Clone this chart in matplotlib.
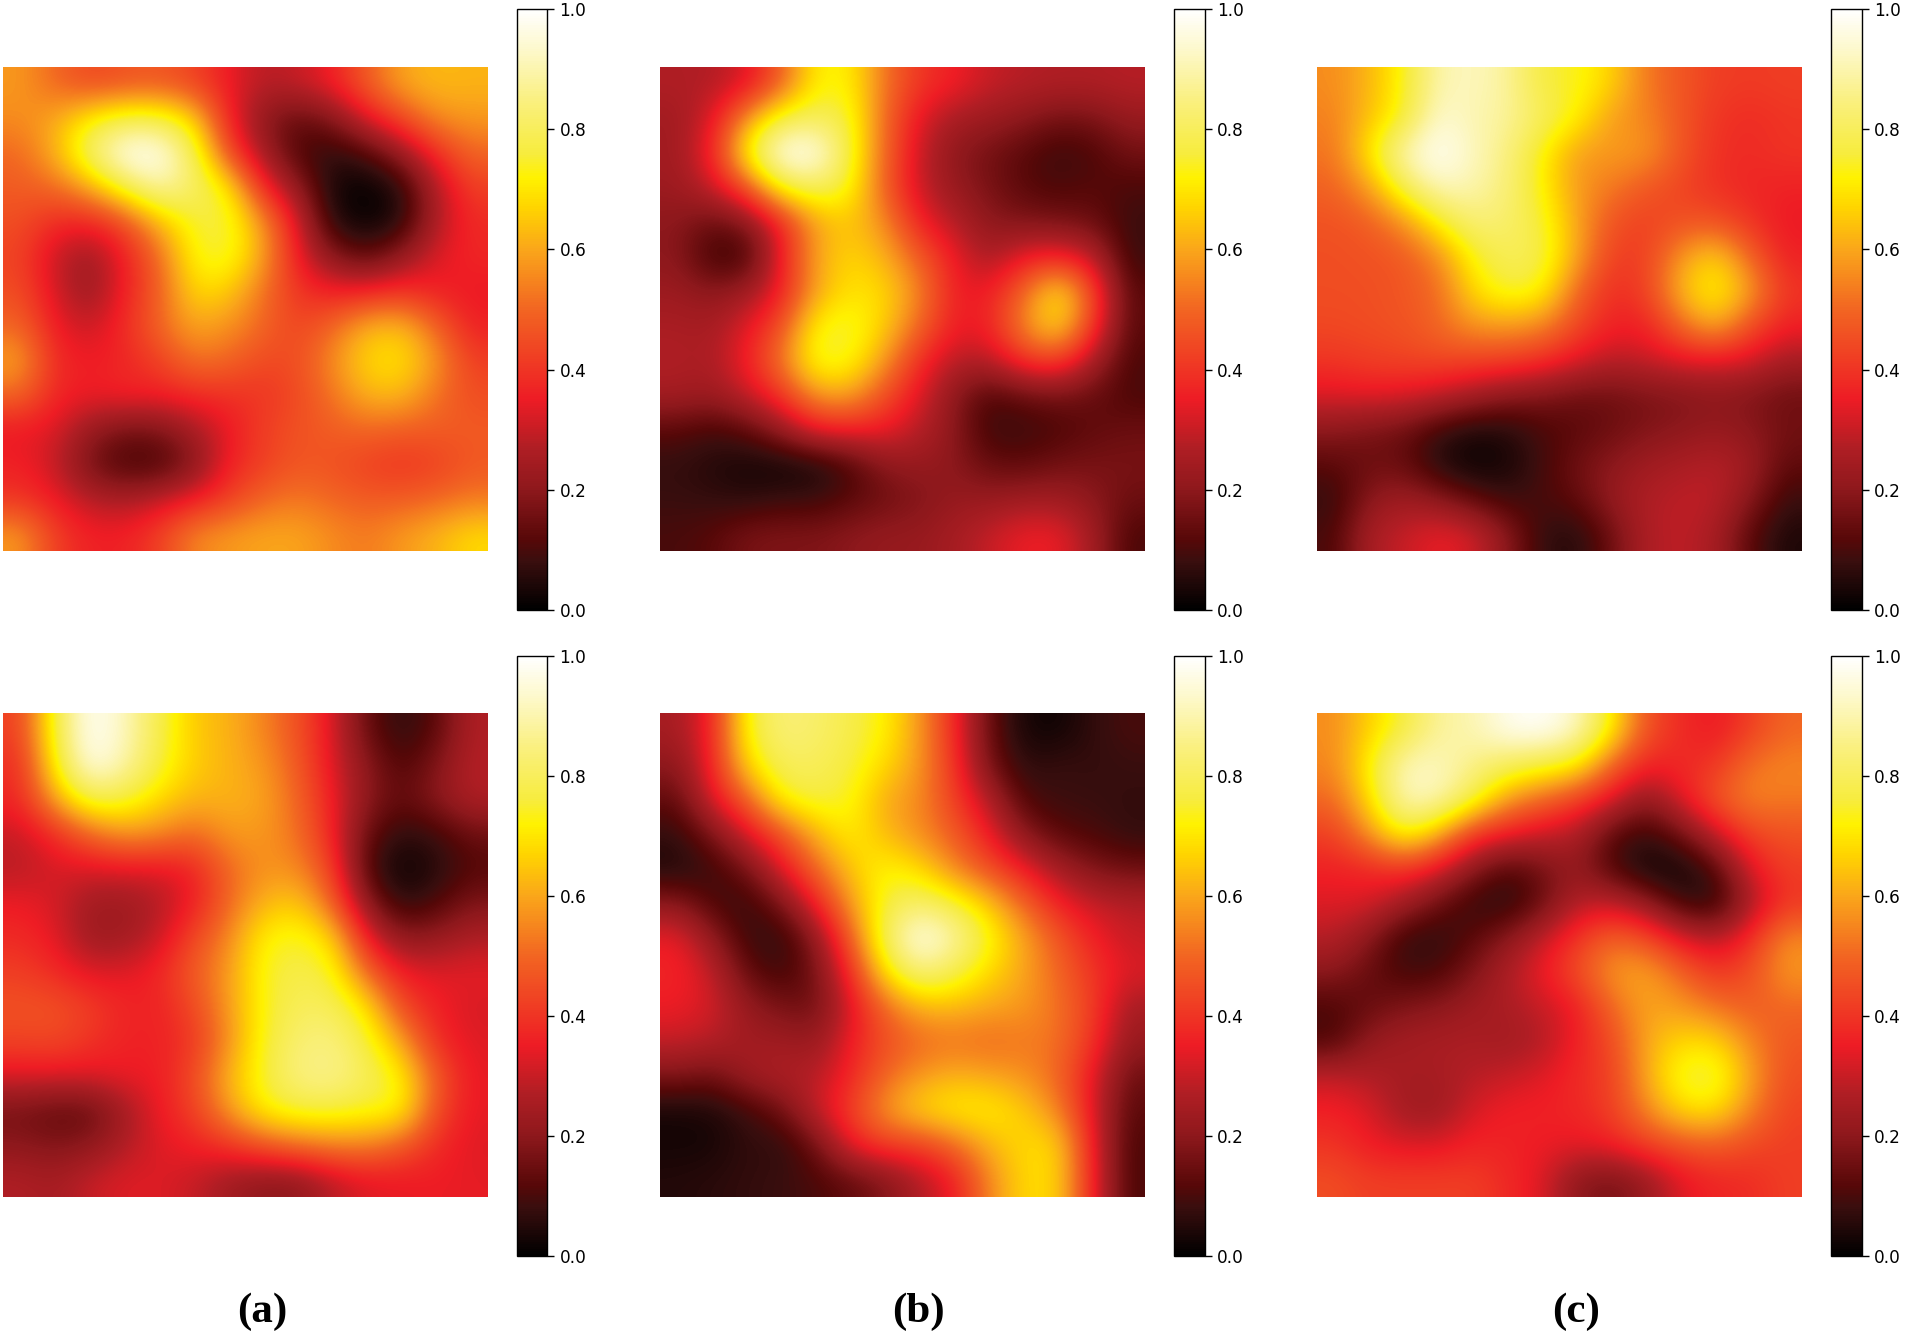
"""
Six smoothed heatmaps with a colorbar each, panel labels (a), (b), (c).
"""
import numpy as np
import matplotlib
matplotlib.use('Agg')
import matplotlib.pyplot as plt
from matplotlib.colors import LinearSegmentedColormap

# --- values, coarse grid per panel ---
a_top = [
    [.58, .50, .44, .46, .47, .43, .35, .28, .30, .36, .48, .60, .63, .62],
    [.56, .60, .72, .78, .78, .68, .37, .20, .13, .18, .33, .44, .56, .58],
    [.50, .62, .82, 1.0, 1.0, .80, .45, .25, .10, .06, .10, .22, .38, .50],
    [.48, .50, .60, .76, .90, .82, .72, .38, .22, .03, .00, .05, .27, .42],
    [.45, .38, .36, .44, .62, .75, .77, .58, .33, .05, .01, .05, .27, .38],
    [.43, .30, .23, .35, .50, .73, .76, .60, .35, .20, .12, .22, .33, .37],
    [.45, .32, .22, .36, .48, .68, .66, .52, .40, .36, .37, .40, .36, .34],
    [.50, .35, .30, .38, .50, .60, .57, .50, .43, .50, .62, .64, .50, .36],
    [.60, .38, .35, .37, .42, .52, .50, .44, .45, .56, .68, .70, .58, .42],
    [.50, .37, .35, .37, .36, .38, .39, .40, .44, .52, .62, .63, .52, .45],
    [.34, .33, .22, .16, .17, .25, .34, .42, .46, .48, .50, .48, .48, .48],
    [.36, .30, .16, .09, .09, .18, .36, .42, .47, .46, .42, .40, .42, .47],
    [.40, .35, .28, .26, .30, .35, .42, .50, .53, .50, .48, .48, .50, .53],
    [.58, .42, .36, .36, .42, .55, .58, .60, .60, .56, .53, .58, .62, .68],
]
b_top = [
    [.27, .27, .32, .48, .72, .72, .52, .40, .36, .30, .28, .27, .27, .28],
    [.24, .32, .58, .78, .80, .76, .50, .33, .25, .23, .20, .16, .17, .22],
    [.24, .36, .74, 1.0, 1.0, .76, .50, .30, .20, .16, .12, .08, .10, .16],
    [.23, .30, .45, .74, .80, .74, .48, .30, .22, .17, .12, .10, .12, .10],
    [.20, .14, .18, .36, .60, .65, .56, .36, .28, .20, .18, .17, .15, .08],
    [.20, .08, .08, .35, .60, .68, .62, .48, .35, .25, .35, .37, .30, .08],
    [.23, .20, .24, .35, .60, .70, .68, .55, .35, .35, .50, .72, .45, .12],
    [.26, .25, .33, .45, .73, .76, .66, .50, .35, .36, .56, .70, .42, .12],
    [.27, .26, .36, .53, .76, .74, .58, .38, .28, .28, .40, .43, .26, .10],
    [.25, .23, .30, .40, .58, .60, .45, .33, .20, .10, .14, .16, .14, .10],
    [.12, .09, .12, .22, .35, .36, .35, .28, .20, .08, .08, .10, .13, .15],
    [.07, .05, .03, .02, .03, .10, .20, .22, .20, .14, .13, .16, .17, .17],
    [.08, .07, .06, .08, .08, .12, .15, .18, .22, .22, .24, .24, .20, .15],
    [.10, .12, .17, .18, .18, .20, .22, .22, .25, .30, .35, .35, .25, .10],
]
c_top = [
    [.56, .62, .73, .90, .92, .88, .76, .74, .67, .53, .47, .42, .41, .42],
    [.54, .64, .74, .95, .90, .88, .80, .72, .58, .55, .47, .40, .38, .40],
    [.52, .70, .92, 1.0, .92, .85, .72, .58, .58, .58, .47, .39, .38, .40],
    [.49, .58, .78, .92, .90, .84, .72, .58, .53, .47, .43, .39, .37, .36],
    [.46, .48, .56, .72, .84, .82, .76, .60, .46, .42, .46, .46, .40, .34],
    [.45, .46, .47, .55, .73, .80, .78, .60, .42, .42, .58, .68, .50, .36],
    [.45, .45, .47, .50, .68, .76, .73, .50, .38, .42, .63, .74, .60, .40],
    [.44, .45, .46, .50, .57, .58, .55, .44, .36, .36, .50, .62, .45, .36],
    [.40, .42, .43, .44, .43, .42, .39, .33, .28, .30, .33, .33, .32, .25],
    [.33, .34, .33, .30, .25, .20, .18, .15, .15, .17, .18, .20, .18, .15],
    [.20, .17, .15, .08, .04, .05, .10, .12, .15, .18, .20, .22, .20, .16],
    [.12, .15, .14, .05, .01, .03, .09, .16, .20, .24, .26, .28, .24, .13],
    [.07, .20, .24, .20, .13, .08, .10, .13, .22, .27, .29, .29, .20, .08],
    [.10, .26, .30, .35, .32, .20, .07, .05, .15, .27, .29, .26, .12, .04],
]
a_bot = [
    [.42, .76, 1.0, .92, .78, .65, .62, .55, .46, .33, .14, .06, .12, .27],
    [.38, .72, .98, .90, .76, .66, .62, .58, .48, .33, .20, .10, .18, .28],
    [.37, .60, .78, .76, .68, .62, .62, .60, .50, .36, .20, .13, .20, .27],
    [.30, .38, .50, .58, .56, .50, .58, .58, .52, .37, .14, .06, .08, .15],
    [.28, .32, .32, .33, .33, .36, .50, .57, .56, .43, .10, .01, .05, .11],
    [.35, .32, .24, .23, .27, .35, .50, .62, .66, .50, .20, .06, .10, .18],
    [.38, .34, .23, .24, .30, .44, .55, .72, .75, .68, .35, .20, .22, .27],
    [.42, .38, .33, .33, .37, .48, .58, .74, .78, .75, .50, .35, .33, .34],
    [.46, .46, .42, .37, .36, .44, .58, .73, .80, .80, .70, .44, .36, .32],
    [.43, .44, .40, .36, .36, .40, .56, .74, .83, .85, .76, .60, .38, .33],
    [.33, .33, .33, .35, .35, .44, .62, .75, .85, .87, .80, .72, .48, .34],
    [.16, .13, .13, .24, .35, .42, .58, .72, .76, .76, .74, .74, .45, .34],
    [.20, .18, .20, .27, .33, .36, .40, .47, .52, .55, .55, .48, .38, .33],
    [.27, .25, .30, .33, .33, .30, .24, .20, .20, .28, .33, .34, .35, .34],
]
b_bot = [
    [.25, .36, .74, .84, .82, .78, .72, .58, .38, .14, .03, .02, .07, .10],
    [.20, .36, .68, .80, .80, .76, .68, .58, .40, .16, .06, .08, .07, .08],
    [.13, .33, .48, .73, .77, .74, .60, .56, .42, .28, .10, .08, .08, .07],
    [.07, .17, .32, .45, .62, .72, .63, .56, .48, .35, .20, .12, .10, .07],
    [.04, .08, .16, .33, .50, .65, .73, .68, .55, .45, .35, .25, .18, .15],
    [.20, .10, .07, .17, .36, .58, .76, .82, .76, .65, .50, .36, .30, .28],
    [.35, .22, .08, .06, .20, .48, .80, 1.0, .90, .74, .60, .47, .36, .30],
    [.37, .30, .14, .08, .16, .38, .70, .85, .78, .68, .60, .50, .40, .33],
    [.35, .32, .22, .17, .15, .32, .50, .62, .63, .60, .58, .52, .42, .25],
    [.30, .28, .24, .24, .22, .35, .45, .50, .52, .50, .53, .52, .40, .22],
    [.18, .15, .24, .27, .28, .37, .50, .58, .62, .60, .57, .50, .34, .15],
    [.03, .04, .08, .15, .30, .42, .58, .68, .72, .72, .66, .55, .33, .12],
    [.03, .03, .07, .06, .15, .35, .42, .42, .50, .62, .68, .68, .35, .10],
    [.05, .06, .07, .08, .10, .13, .18, .27, .35, .55, .68, .68, .36, .10],
]
c_bot = [
    [.56, .66, .76, .88, .90, .98, 1.0, .93, .72, .46, .38, .34, .42, .50],
    [.55, .72, .92, .92, .86, .80, .76, .72, .50, .36, .38, .40, .52, .55],
    [.50, .68, .92, .92, .78, .58, .50, .42, .33, .20, .33, .47, .55, .53],
    [.42, .57, .75, .62, .40, .35, .30, .27, .12, .07, .15, .30, .43, .46],
    [.36, .37, .40, .33, .20, .10, .16, .22, .10, .02, .02, .10, .33, .42],
    [.33, .33, .25, .15, .07, .05, .14, .28, .30, .22, .08, .05, .25, .40],
    [.28, .20, .07, .06, .12, .20, .30, .40, .50, .45, .33, .28, .38, .56],
    [.20, .14, .09, .10, .18, .27, .35, .45, .58, .60, .50, .40, .45, .58],
    [.10, .14, .18, .20, .24, .26, .30, .35, .50, .60, .58, .52, .48, .50],
    [.10, .22, .25, .26, .26, .24, .27, .36, .44, .60, .68, .68, .55, .47],
    [.30, .27, .25, .25, .28, .30, .33, .38, .42, .60, .76, .78, .60, .45],
    [.36, .33, .24, .23, .32, .36, .36, .37, .42, .55, .68, .70, .55, .43],
    [.40, .35, .33, .33, .37, .36, .35, .34, .36, .42, .46, .48, .44, .42],
    [.45, .42, .42, .42, .42, .38, .33, .20, .16, .22, .33, .37, .38, .42],
]
panels = [a_top, b_top, c_top, a_bot, b_bot, c_bot]
labels = ['(a)', '(b)', '(c)']
cbar_ticks = [0.0, 0.2, 0.4, 0.6, 0.8, 1.0]

cmap = LinearSegmentedColormap.from_list('hot_custom', [
    (0.00, '#000000'), (0.08, '#3a0e0e'), (0.115, '#560808'), (0.20, '#8e181c'), (0.27, '#b01e24'),
    (0.35, '#ee1c25'), (0.43, '#f04323'), (0.50, '#f26522'), (0.60, '#faa61a'), (0.67, '#ffd400'),
    (0.72, '#fff200'), (0.76, '#f7ec3d'), (0.85, '#faf080'), (0.93, '#fdf8c8'), (1.00, '#ffffff'),
])

W, H = 1905, 1334
fig = plt.figure(figsize=(W / 100, H / 100), dpi=100)


def px_axes(x0, y0, x1, y1):
    return fig.add_axes([x0 / W, 1 - y1 / H, (x1 - x0) / W, (y1 - y0) / H])


x_left = [2.5, 660, 1317]
y_top = [67, 713]
for i, grid in enumerate(panels):
    col, row = i % 3, i // 3
    x0, y0 = x_left[col], y_top[row]
    ax = px_axes(x0, y0, x0 + 484.5, y0 + 484)
    im = ax.imshow(np.array(grid), cmap=cmap, vmin=0, vmax=1, interpolation='bicubic', aspect='auto')
    ax.axis('off')

    cax = px_axes(x0 + 514, y0 - 58 + row, x0 + 544.5, y0 + 543)
    cb = fig.colorbar(im, cax=cax)
    cb.set_ticks(cbar_ticks)
    cb.ax.tick_params(labelsize=12.2, length=5, width=1, pad=4)
    cb.outline.set_linewidth(1)

for lab, x in zip(labels, [262, 918, 1576]):
    fig.text(x / W, 1 - 1312 / H, lab, family='Liberation Serif', fontweight='bold', fontsize=31,
             ha='center', va='center')

plt.savefig('out.png', dpi=100)
plt.close()
